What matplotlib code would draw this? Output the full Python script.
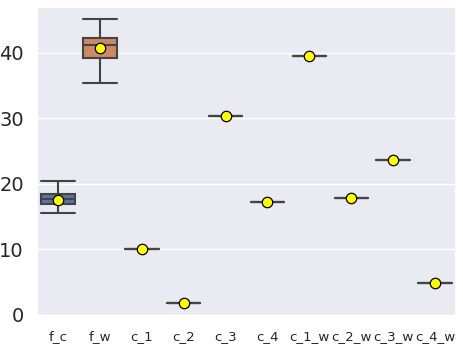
import matplotlib
matplotlib.use("Agg")
import matplotlib.pyplot as plt
import seaborn as sns

sns.set_theme(style="darkgrid")

labels = ["f_c", "f_w", "c_1", "c_2", "c_3", "c_4", "c_1_w", "c_2_w", "c_3_w", "c_4_w"]
q1 = [17.0, 39.3, 10.1, 1.8, 30.4, 17.2, 39.6, 17.8, 23.7, 4.9]
med = [17.7, 41.2, 10.1, 1.8, 30.4, 17.2, 39.6, 17.8, 23.7, 4.9]
q3 = [18.5, 42.3, 10.1, 1.8, 30.4, 17.2, 39.6, 17.8, 23.7, 4.9]
whislo = [15.5, 35.4, 10.1, 1.8, 30.4, 17.2, 39.6, 17.8, 23.7, 4.9]
whishi = [20.5, 45.2, 10.1, 1.8, 30.4, 17.2, 39.6, 17.8, 23.7, 4.9]
means = [17.6, 40.8, 10.1, 1.8, 30.4, 17.2, 39.6, 17.8, 23.7, 4.9]
box_colors = ["#5875a4", "#cc8963", "#5f9e6e", "#b55d60", "#857aab",
              "#8d7866", "#d095bf", "#8c8c8c", "#c1b37f", "#64b5cd"]

stats = []
for i in range(len(labels)):
    stats.append(dict(label=labels[i], q1=q1[i], med=med[i], q3=q3[i],
                      whislo=whislo[i], whishi=whishi[i], mean=means[i], fliers=[]))

fig, ax = plt.subplots(figsize=(4.63, 3.54), dpi=100)
gray = "#444444"
bp = ax.bxp(stats, positions=range(len(labels)), widths=0.8, patch_artist=True,
            showmeans=True, showfliers=False,
            boxprops=dict(edgecolor=gray, linewidth=1.5),
            medianprops=dict(color=gray, linewidth=1.5),
            whiskerprops=dict(color=gray, linewidth=1.5),
            capprops=dict(color=gray, linewidth=1.5),
            meanprops=dict(marker="o", markerfacecolor="yellow", markeredgecolor="black",
                           markersize=7.5, markeredgewidth=0.9))
for patch, c in zip(bp["boxes"], box_colors):
    patch.set_facecolor(c)
for cap in bp["caps"]:
    x0, x1 = cap.get_xdata()
    m = (x0 + x1) / 2
    cap.set_xdata([m - 0.4, m + 0.4])

ax.set_xlim(-0.5, len(labels) - 0.5)
ax.set_ylim(-0.3, 47)
ax.set_yticks([0, 10, 20, 30, 40])
ax.tick_params(axis="y", labelsize=14)
ax.tick_params(axis="x", labelsize=9.6)
ax.grid(axis="x", visible=False)
plt.subplots_adjust(left=0.08, right=0.985, bottom=0.105, top=0.98)
plt.savefig("out.png")
